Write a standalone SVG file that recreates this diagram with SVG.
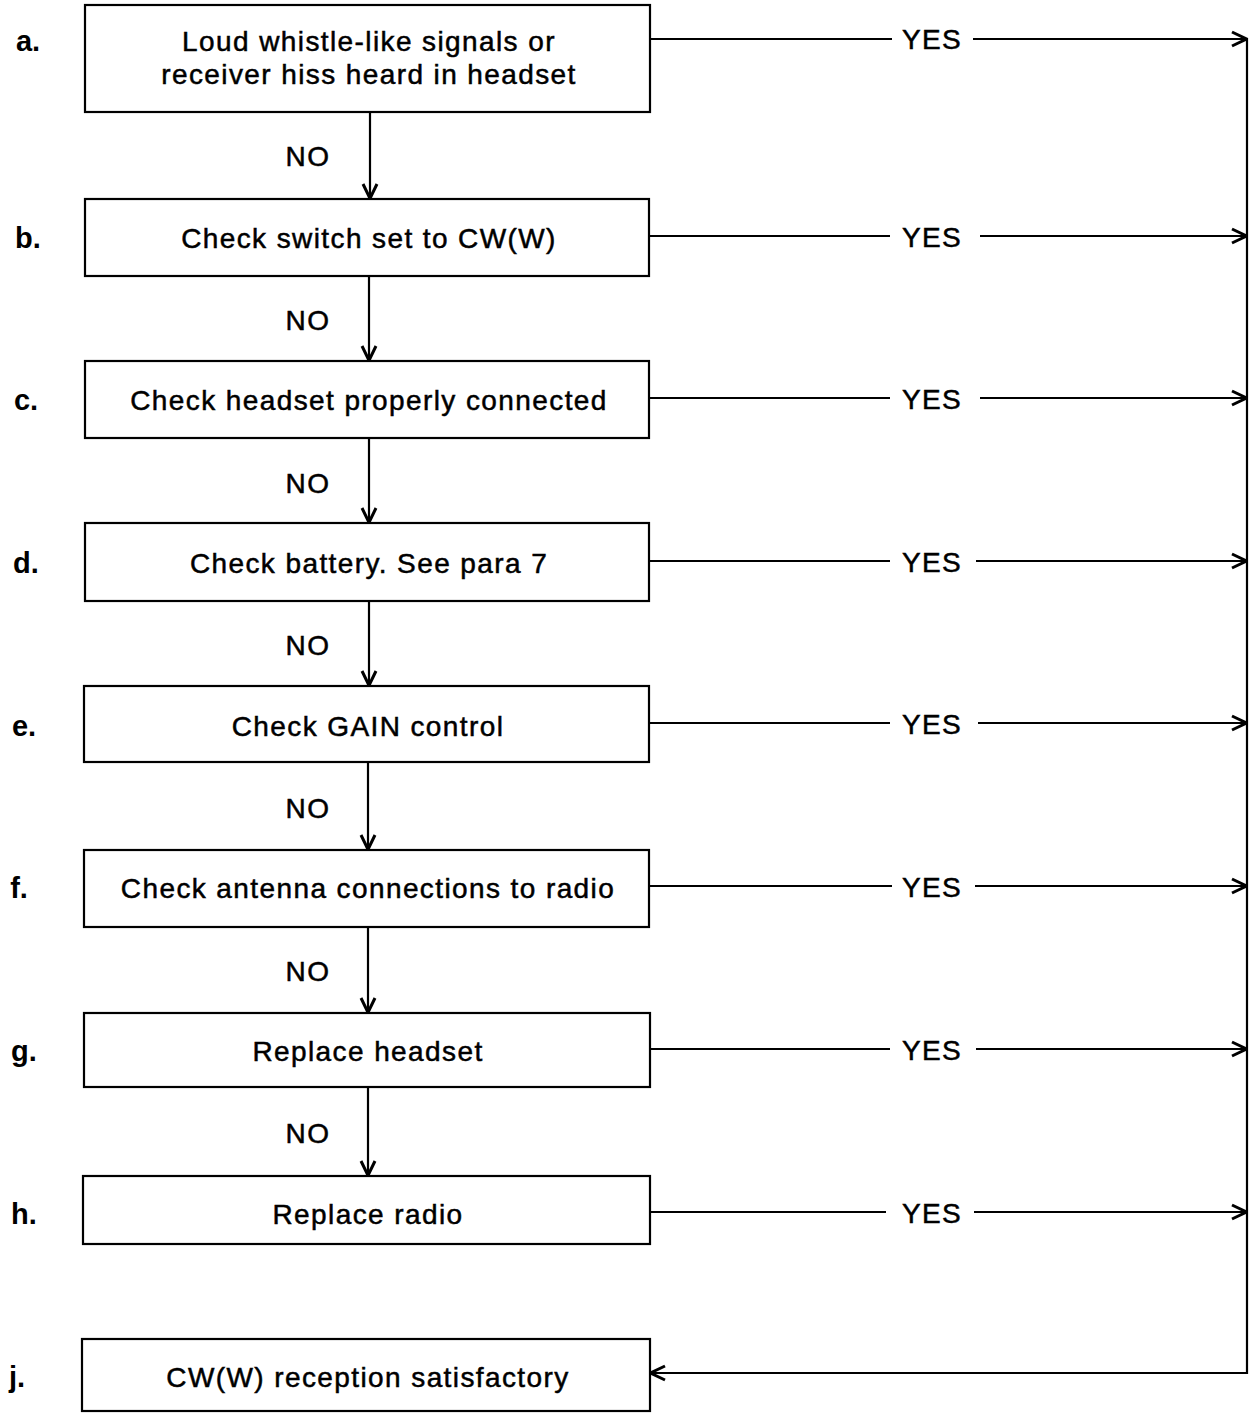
<svg xmlns="http://www.w3.org/2000/svg" width="1255" height="1414" viewBox="0 0 1255 1414">
<style>
.box{fill:#fff;stroke:#000;stroke-width:2.2}
.t{font-family:"Liberation Sans",Arial,sans-serif;font-size:28px;letter-spacing:1.4px;text-anchor:middle;fill:#000;stroke:#000;stroke-width:0.5}
.lbl{font-family:"Liberation Sans",Arial,sans-serif;font-size:29px;font-weight:bold;text-anchor:middle;fill:#000}
.c{fill:none;stroke:#000;stroke-width:2.2}
</style>
<defs>
<marker id="ar" viewBox="0 0 18 18" refX="17" refY="9" markerWidth="18" markerHeight="18" markerUnits="userSpaceOnUse" orient="auto">
<path d="M2,2 L16.5,9 L2,16" fill="none" stroke="#000" stroke-width="3"/>
</marker>
</defs>
<rect width="1255" height="1414" fill="#fff"/>
<g id="connectors">
<line class="c" x1="370" y1="112" x2="370" y2="199" marker-end="url(#ar)"/>
<line class="c" x1="369" y1="276" x2="369" y2="361" marker-end="url(#ar)"/>
<line class="c" x1="369" y1="438" x2="369" y2="523" marker-end="url(#ar)"/>
<line class="c" x1="369" y1="601" x2="369" y2="686" marker-end="url(#ar)"/>
<line class="c" x1="368" y1="762" x2="368" y2="850" marker-end="url(#ar)"/>
<line class="c" x1="368" y1="927" x2="368" y2="1013" marker-end="url(#ar)"/>
<line class="c" x1="368" y1="1087" x2="368" y2="1176" marker-end="url(#ar)"/>
<g class="t">
<text x="308" y="166">NO</text>
<text x="308" y="330">NO</text>
<text x="308" y="493">NO</text>
<text x="308" y="655">NO</text>
<text x="308" y="818">NO</text>
<text x="308" y="981">NO</text>
<text x="308" y="1143">NO</text>
</g>
<line class="c" x1="650" y1="39" x2="892" y2="39"/><line class="c" x1="973" y1="39" x2="1247" y2="39" marker-end="url(#ar)"/>
<line class="c" x1="649" y1="236" x2="890" y2="236"/><line class="c" x1="980" y1="236" x2="1247" y2="236" marker-end="url(#ar)"/>
<line class="c" x1="649" y1="398" x2="890" y2="398"/><line class="c" x1="980" y1="398" x2="1247" y2="398" marker-end="url(#ar)"/>
<line class="c" x1="649" y1="561" x2="890" y2="561"/><line class="c" x1="976" y1="561" x2="1247" y2="561" marker-end="url(#ar)"/>
<line class="c" x1="649" y1="723" x2="890" y2="723"/><line class="c" x1="978" y1="723" x2="1247" y2="723" marker-end="url(#ar)"/>
<line class="c" x1="649" y1="886" x2="892" y2="886"/><line class="c" x1="975" y1="886" x2="1247" y2="886" marker-end="url(#ar)"/>
<line class="c" x1="650" y1="1049" x2="890" y2="1049"/><line class="c" x1="976" y1="1049" x2="1247" y2="1049" marker-end="url(#ar)"/>
<line class="c" x1="650" y1="1212" x2="886" y2="1212"/><line class="c" x1="974" y1="1212" x2="1247" y2="1212" marker-end="url(#ar)"/>
<g class="t">
<text x="932" y="49">YES</text>
<text x="932" y="247">YES</text>
<text x="932" y="409">YES</text>
<text x="932" y="572">YES</text>
<text x="932" y="734">YES</text>
<text x="932" y="897">YES</text>
<text x="932" y="1060">YES</text>
<text x="932" y="1223">YES</text>
</g>
<polyline class="c" points="1247,38 1247,1373 650,1373" marker-end="url(#ar)"/>
</g>
<g id="node-a"><rect class="box" x="85" y="5" width="565" height="107"/><text class="lbl" x="28" y="51">a.</text><text class="t" x="369" y="51">Loud whistle-like signals or</text><text class="t" x="369" y="84">receiver hiss heard in headset</text></g>
<g id="node-b"><rect class="box" x="85" y="199" width="564" height="77"/><text class="lbl" x="28" y="248">b.</text><text class="t" x="369" y="248">Check switch set to CW(W)</text></g>
<g id="node-c"><rect class="box" x="85" y="361" width="564" height="77"/><text class="lbl" x="26" y="410">c.</text><text class="t" x="369" y="410">Check headset properly connected</text></g>
<g id="node-d"><rect class="box" x="85" y="523" width="564" height="78"/><text class="lbl" x="26" y="573">d.</text><text class="t" x="369" y="573">Check battery. See para 7</text></g>
<g id="node-e"><rect class="box" x="84" y="686" width="565" height="76"/><text class="lbl" x="24" y="736">e.</text><text class="t" x="368" y="736">Check GAIN control</text></g>
<g id="node-f"><rect class="box" x="84" y="850" width="565" height="77"/><text class="lbl" x="19" y="898">f.</text><text class="t" x="368" y="898">Check antenna connections to radio</text></g>
<g id="node-g"><rect class="box" x="84" y="1013" width="566" height="74"/><text class="lbl" x="24" y="1061">g.</text><text class="t" x="368" y="1061">Replace headset</text></g>
<g id="node-h"><rect class="box" x="83" y="1176" width="567" height="68"/><text class="lbl" x="24" y="1224">h.</text><text class="t" x="368" y="1224">Replace radio</text></g>
<g id="node-j"><rect class="box" x="82" y="1339" width="568" height="72"/><text class="lbl" x="17" y="1387">j.</text><text class="t" x="368" y="1387">CW(W) reception satisfactory</text></g>
</svg>
